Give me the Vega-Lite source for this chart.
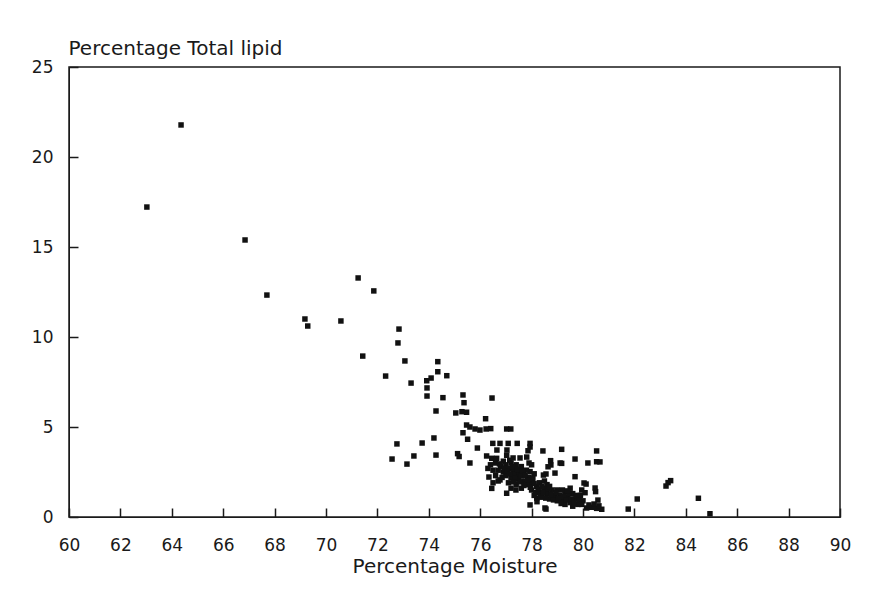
{
  "$schema": "https://vega.github.io/schema/vega-lite/v6.json",
  "width": 771,
  "height": 450,
  "autosize": {"type": "none"},
  "padding": {"left": 69, "top": 67, "right": 31, "bottom": 87},
  "background": "#ffffff",
  "config": {
    "view": {"stroke": "#1a1a1a", "strokeWidth": 1.5},
    "font": "DejaVu Sans",
    "axis": {
      "labelFont": "DejaVu Sans",
      "titleFont": "DejaVu Sans",
      "labelColor": "#1a1a1a",
      "titleColor": "#1a1a1a",
      "domainColor": "#1a1a1a",
      "tickColor": "#1a1a1a",
      "tickWidth": 1.5,
      "grid": false
    }
  },
  "data": {
    "values": [
      {"moisture": 63.03, "lipid": 17.22},
      {"moisture": 64.36, "lipid": 21.78},
      {"moisture": 66.85, "lipid": 15.39},
      {"moisture": 67.70, "lipid": 12.33},
      {"moisture": 69.18, "lipid": 11.0},
      {"moisture": 69.29, "lipid": 10.61},
      {"moisture": 70.58, "lipid": 10.89},
      {"moisture": 71.25, "lipid": 13.28},
      {"moisture": 71.86, "lipid": 12.56},
      {"moisture": 71.43, "lipid": 8.94},
      {"moisture": 72.84, "lipid": 10.44},
      {"moisture": 72.80, "lipid": 9.67},
      {"moisture": 73.07, "lipid": 8.67},
      {"moisture": 72.32, "lipid": 7.83},
      {"moisture": 73.31, "lipid": 7.44},
      {"moisture": 74.35, "lipid": 8.63},
      {"moisture": 74.35, "lipid": 8.07},
      {"moisture": 74.70, "lipid": 7.85},
      {"moisture": 73.92, "lipid": 7.57},
      {"moisture": 74.09, "lipid": 7.72},
      {"moisture": 73.93, "lipid": 7.17},
      {"moisture": 73.93, "lipid": 6.72},
      {"moisture": 74.55, "lipid": 6.63},
      {"moisture": 75.33, "lipid": 6.78},
      {"moisture": 75.37, "lipid": 6.35},
      {"moisture": 76.46, "lipid": 6.61},
      {"moisture": 74.28, "lipid": 5.89},
      {"moisture": 75.05, "lipid": 5.78},
      {"moisture": 75.29, "lipid": 5.85},
      {"moisture": 75.47, "lipid": 5.82},
      {"moisture": 76.21, "lipid": 5.46},
      {"moisture": 75.47, "lipid": 5.11},
      {"moisture": 75.60, "lipid": 5.0},
      {"moisture": 75.80, "lipid": 4.89},
      {"moisture": 75.99, "lipid": 4.83},
      {"moisture": 76.23, "lipid": 4.89},
      {"moisture": 76.41, "lipid": 4.91},
      {"moisture": 77.03, "lipid": 4.89},
      {"moisture": 77.19, "lipid": 4.89},
      {"moisture": 75.33, "lipid": 4.68},
      {"moisture": 75.51, "lipid": 4.32},
      {"moisture": 73.74, "lipid": 4.11},
      {"moisture": 74.20, "lipid": 4.39},
      {"moisture": 75.89, "lipid": 3.83},
      {"moisture": 74.28, "lipid": 3.44},
      {"moisture": 75.12, "lipid": 3.52},
      {"moisture": 75.18, "lipid": 3.36},
      {"moisture": 75.60, "lipid": 3.0},
      {"moisture": 72.76, "lipid": 4.06},
      {"moisture": 72.57, "lipid": 3.22},
      {"moisture": 73.42, "lipid": 3.39},
      {"moisture": 73.15, "lipid": 2.94},
      {"moisture": 76.49, "lipid": 4.09},
      {"moisture": 76.77, "lipid": 4.09},
      {"moisture": 77.09, "lipid": 4.09},
      {"moisture": 77.44, "lipid": 4.09},
      {"moisture": 77.94, "lipid": 4.09},
      {"moisture": 77.94, "lipid": 3.89},
      {"moisture": 76.65, "lipid": 3.72},
      {"moisture": 77.04, "lipid": 3.72},
      {"moisture": 77.86, "lipid": 3.68},
      {"moisture": 78.44, "lipid": 3.67},
      {"moisture": 79.17, "lipid": 3.76},
      {"moisture": 80.53, "lipid": 3.67},
      {"moisture": 76.25, "lipid": 3.39},
      {"moisture": 76.45, "lipid": 3.26},
      {"moisture": 76.64, "lipid": 3.26},
      {"moisture": 77.03, "lipid": 3.43},
      {"moisture": 77.28, "lipid": 3.28},
      {"moisture": 77.55, "lipid": 3.28},
      {"moisture": 77.81, "lipid": 3.33},
      {"moisture": 78.74, "lipid": 3.13},
      {"moisture": 79.11, "lipid": 3.0},
      {"moisture": 79.69, "lipid": 3.22},
      {"moisture": 80.19, "lipid": 3.0},
      {"moisture": 80.53, "lipid": 3.07},
      {"moisture": 80.66, "lipid": 3.06},
      {"moisture": 78.64, "lipid": 2.79},
      {"moisture": 78.75, "lipid": 2.89},
      {"moisture": 79.17, "lipid": 2.98},
      {"moisture": 78.56, "lipid": 2.39},
      {"moisture": 78.46, "lipid": 2.33},
      {"moisture": 78.91, "lipid": 2.44},
      {"moisture": 76.34, "lipid": 2.22},
      {"moisture": 76.77, "lipid": 2.06},
      {"moisture": 77.42, "lipid": 2.24},
      {"moisture": 77.67, "lipid": 2.44},
      {"moisture": 77.94, "lipid": 2.52},
      {"moisture": 76.45, "lipid": 1.59},
      {"moisture": 77.03, "lipid": 1.32},
      {"moisture": 77.39, "lipid": 1.5},
      {"moisture": 79.69, "lipid": 2.24},
      {"moisture": 80.04, "lipid": 1.89},
      {"moisture": 80.12, "lipid": 1.83},
      {"moisture": 79.95, "lipid": 1.5},
      {"moisture": 80.08, "lipid": 1.35},
      {"moisture": 80.47, "lipid": 1.61},
      {"moisture": 80.49, "lipid": 1.41},
      {"moisture": 80.58, "lipid": 0.94},
      {"moisture": 77.94, "lipid": 0.67},
      {"moisture": 78.21, "lipid": 0.85},
      {"moisture": 78.56, "lipid": 0.44},
      {"moisture": 78.52, "lipid": 0.5},
      {"moisture": 80.14, "lipid": 0.5},
      {"moisture": 80.34, "lipid": 0.54},
      {"moisture": 80.53, "lipid": 0.48},
      {"moisture": 80.73, "lipid": 0.43},
      {"moisture": 80.23, "lipid": 0.67},
      {"moisture": 80.43, "lipid": 0.72},
      {"moisture": 80.62, "lipid": 0.62},
      {"moisture": 81.76, "lipid": 0.44},
      {"moisture": 82.11, "lipid": 1.0},
      {"moisture": 83.23, "lipid": 1.72},
      {"moisture": 83.31, "lipid": 1.91},
      {"moisture": 83.41, "lipid": 2.02},
      {"moisture": 84.49, "lipid": 1.04},
      {"moisture": 84.94, "lipid": 0.18},
      {"moisture": 76.9, "lipid": 3.1},
      {"moisture": 77.0, "lipid": 2.9},
      {"moisture": 77.1, "lipid": 2.7},
      {"moisture": 77.2, "lipid": 3.0},
      {"moisture": 77.3, "lipid": 2.6},
      {"moisture": 77.4, "lipid": 2.9},
      {"moisture": 77.5, "lipid": 2.5},
      {"moisture": 77.6, "lipid": 2.8},
      {"moisture": 76.9, "lipid": 2.5},
      {"moisture": 77.0, "lipid": 2.3},
      {"moisture": 77.2, "lipid": 2.2},
      {"moisture": 77.3, "lipid": 2.4},
      {"moisture": 77.5, "lipid": 2.1},
      {"moisture": 77.6, "lipid": 2.3},
      {"moisture": 77.7, "lipid": 2.0},
      {"moisture": 77.8, "lipid": 2.6},
      {"moisture": 77.9, "lipid": 2.2},
      {"moisture": 78.0, "lipid": 1.9},
      {"moisture": 77.1, "lipid": 1.9},
      {"moisture": 77.4, "lipid": 1.8},
      {"moisture": 77.6, "lipid": 1.6},
      {"moisture": 77.8, "lipid": 1.8},
      {"moisture": 78.0, "lipid": 2.9},
      {"moisture": 77.9, "lipid": 3.0},
      {"moisture": 76.8, "lipid": 2.8},
      {"moisture": 76.7, "lipid": 2.6},
      {"moisture": 77.2, "lipid": 1.6},
      {"moisture": 78.1, "lipid": 2.4},
      {"moisture": 76.4, "lipid": 2.9},
      {"moisture": 76.5, "lipid": 2.6},
      {"moisture": 76.6, "lipid": 3.0},
      {"moisture": 76.3, "lipid": 2.7},
      {"moisture": 76.6, "lipid": 2.3},
      {"moisture": 76.7, "lipid": 2.0},
      {"moisture": 76.5, "lipid": 1.9},
      {"moisture": 78.0, "lipid": 1.5},
      {"moisture": 78.1, "lipid": 1.2},
      {"moisture": 78.2, "lipid": 1.7},
      {"moisture": 78.3, "lipid": 1.4},
      {"moisture": 78.4, "lipid": 1.1},
      {"moisture": 78.5, "lipid": 1.6},
      {"moisture": 78.6, "lipid": 1.3},
      {"moisture": 78.7, "lipid": 1.0},
      {"moisture": 78.8, "lipid": 1.5},
      {"moisture": 78.3, "lipid": 1.9},
      {"moisture": 78.5, "lipid": 2.0},
      {"moisture": 78.2, "lipid": 1.05},
      {"moisture": 78.6, "lipid": 1.8},
      {"moisture": 78.9, "lipid": 1.2},
      {"moisture": 79.0, "lipid": 0.9},
      {"moisture": 79.1, "lipid": 1.2},
      {"moisture": 79.2, "lipid": 0.9},
      {"moisture": 79.3, "lipid": 1.4},
      {"moisture": 79.4, "lipid": 1.1},
      {"moisture": 79.5, "lipid": 0.8},
      {"moisture": 79.6, "lipid": 1.3},
      {"moisture": 79.7, "lipid": 1.0},
      {"moisture": 79.8, "lipid": 0.7},
      {"moisture": 79.9, "lipid": 1.2},
      {"moisture": 80.0, "lipid": 0.9},
      {"moisture": 79.3, "lipid": 0.7},
      {"moisture": 79.6, "lipid": 0.6},
      {"moisture": 79.2, "lipid": 1.5},
      {"moisture": 79.5, "lipid": 1.6},
      {"moisture": 79.0, "lipid": 1.5},
      {"moisture": 76.95, "lipid": 2.7},
      {"moisture": 77.05, "lipid": 2.55},
      {"moisture": 77.15, "lipid": 2.4},
      {"moisture": 77.25, "lipid": 2.8},
      {"moisture": 77.35, "lipid": 2.15},
      {"moisture": 77.45, "lipid": 2.65},
      {"moisture": 77.55, "lipid": 1.95},
      {"moisture": 77.65, "lipid": 2.55},
      {"moisture": 77.75, "lipid": 2.3},
      {"moisture": 77.85, "lipid": 2.05},
      {"moisture": 77.15, "lipid": 3.15},
      {"moisture": 76.85, "lipid": 2.2},
      {"moisture": 76.75, "lipid": 2.95},
      {"moisture": 77.3, "lipid": 1.95},
      {"moisture": 77.7, "lipid": 1.75},
      {"moisture": 77.95, "lipid": 1.65},
      {"moisture": 78.05, "lipid": 2.15},
      {"moisture": 78.15, "lipid": 1.35},
      {"moisture": 78.25, "lipid": 1.55},
      {"moisture": 78.35, "lipid": 1.15},
      {"moisture": 78.45, "lipid": 1.35},
      {"moisture": 78.55, "lipid": 1.05},
      {"moisture": 78.65, "lipid": 1.55},
      {"moisture": 78.75, "lipid": 1.25},
      {"moisture": 78.85, "lipid": 0.95},
      {"moisture": 78.95, "lipid": 1.35},
      {"moisture": 79.05, "lipid": 1.05},
      {"moisture": 79.15, "lipid": 0.75},
      {"moisture": 79.25, "lipid": 1.15},
      {"moisture": 79.35, "lipid": 0.95},
      {"moisture": 79.45, "lipid": 1.3},
      {"moisture": 79.55, "lipid": 1.0},
      {"moisture": 79.65, "lipid": 0.75},
      {"moisture": 79.75, "lipid": 1.2},
      {"moisture": 79.85, "lipid": 0.95},
      {"moisture": 79.95, "lipid": 0.7},
      {"moisture": 78.4, "lipid": 1.7},
      {"moisture": 78.7, "lipid": 1.7},
      {"moisture": 79.4, "lipid": 1.45},
      {"moisture": 78.1, "lipid": 1.85}
    ]
  },
  "mark": {"type": "point", "shape": "square", "filled": true, "size": 30, "color": "#111111", "opacity": 1},
  "encoding": {
    "x": {
      "field": "moisture",
      "type": "quantitative",
      "scale": {"domain": [60, 90], "nice": false, "zero": false},
      "axis": {
        "values": [60, 62, 64, 66, 68, 70, 72, 74, 76, 78, 80, 82, 84, 86, 88, 90],
        "title": "Percentage Moisture",
        "titleFontSize": 20,
        "titleFontWeight": "normal",
        "titleBaseline": "alphabetic",
        "titleY": 55,
        "labelFontSize": 17,
        "ticks": true,
        "tickSize": -9,
        "labelPadding": 29,
        "labelFlush": false
      }
    },
    "y": {
      "field": "lipid",
      "type": "quantitative",
      "scale": {"domain": [0, 25], "nice": false},
      "axis": {
        "values": [0, 5, 10, 15, 20, 25],
        "title": "Percentage Total lipid",
        "titleFontSize": 20,
        "titleFontWeight": "normal",
        "titleAngle": 0,
        "titleAlign": "left",
        "titleBaseline": "alphabetic",
        "titleX": -1,
        "titleY": -13,
        "labelFontSize": 17,
        "ticks": true,
        "tickSize": -9,
        "labelPadding": 25,
        "labelFlush": false
      }
    }
  }
}
